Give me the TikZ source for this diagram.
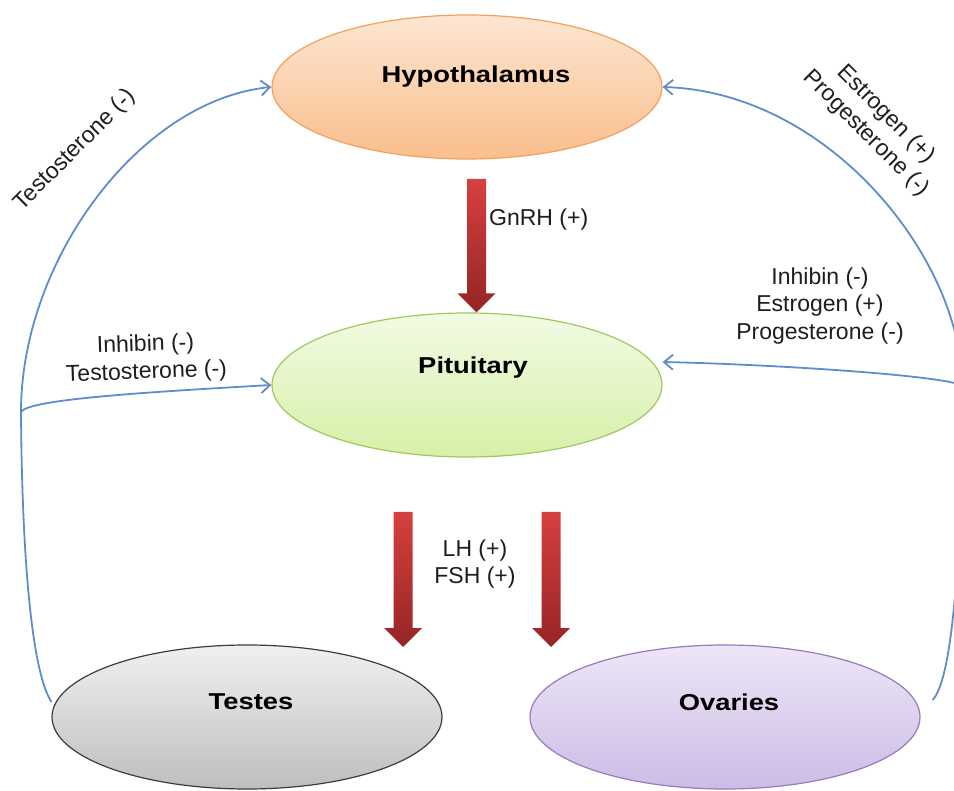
\documentclass[tikz,border=0pt]{standalone}
\usepackage{fontspec}
\setmainfont{Liberation Sans}
\newfontfamily\organfont{Liberation Sans}[FakeStretch=1.19]
\usepackage{tikz}
\usetikzlibrary{arrows.meta,calc,shapes.geometric}
\definecolor{ink}{RGB}{30,30,30}
\definecolor{fb}{RGB}{95,140,205}
\definecolor{arrtop}{RGB}{214,64,64}
\definecolor{arrbot}{RGB}{150,36,36}
\definecolor{hypoline}{RGB}{242,160,95}
\definecolor{hypotop}{RGB}{253,230,210}
\definecolor{hypobot}{RGB}{250,190,140}
\definecolor{pitline}{RGB}{160,200,95}
\definecolor{pittop}{RGB}{242,251,228}
\definecolor{pitbot}{RGB}{214,240,168}
\definecolor{teline}{RGB}{60,60,60}
\definecolor{tetop}{RGB}{240,240,240}
\definecolor{tebot}{RGB}{190,190,190}
\definecolor{ovline}{RGB}{150,122,190}
\definecolor{ovtop}{RGB}{238,230,247}
\definecolor{ovbot}{RGB}{204,188,230}
\tikzset{
  organ/.style={ellipse,minimum width=390pt,minimum height=144pt,inner sep=0pt,line width=1.2pt},
  otext/.style={font=\organfont\bfseries\fontsize{23}{27}\selectfont,text=black},
  lbl/.style={font=\fontsize{23}{27.5}\selectfont,align=center,text=ink,inner sep=0pt},
  fbk/.style={fb,line width=1.8pt,-{Straight Barb[length=9pt,width=15pt]}},
}
% thick red hormone arrow: #1 top of shaft, #2 tip
\newcommand{\hormonearrow}[2]{%
  \shade[top color=arrtop,bottom color=arrbot]
    ($(#1)+(-9.5,0)$) -- ($(#1)+(9.5,0)$) -- ($(#2)+(9.5,-19)$) -- ($(#2)+(19,-19)$)
    -- (#2) -- ($(#2)+(-19,-19)$) -- ($(#2)+(-9.5,-19)$) -- cycle;}

\begin{document}
\begin{tikzpicture}[x=1pt,y=-1pt]
  \useasboundingbox (0,0) rectangle (954,791);
  \clip (0,0) rectangle (954,791);

  \node[organ,draw=hypoline,top color=hypotop,bottom color=hypobot] (hypo) at (467,87) {};
  \node[organ,draw=pitline,top color=pittop,bottom color=pitbot] (pit) at (467,385) {};
  \node[organ,draw=teline,top color=tetop,bottom color=tebot] (testes) at (247,717) {};
  \node[organ,draw=ovline,top color=ovtop,bottom color=ovbot] (ovaries) at (725,717) {};

  \node[otext] (hypoT) at ([shift={(9pt,10pt)}]hypo.center) {Hypothalamus};
  \node[otext] (pitT) at ([shift={(6pt,17pt)}]pit.center) {Pituitary};
  \node[otext] (testesT) at ([shift={(4pt,15pt)}]testes.center) {Testes};
  \node[otext] (ovariesT) at ([shift={(4pt,15pt)}]ovaries.center) {Ovaries};

  % releasing hormones
  \coordinate (gnTop) at (476.5,179);
  \coordinate (gnTip) at ($(pit.north)+(9.5,0)$);
  \coordinate (lhTop) at (403,512);
  \coordinate (lhTip) at (403,647);
  \coordinate (fshTop) at (551,512);
  \coordinate (fshTip) at (551,647);
  \hormonearrow{gnTop}{gnTip}
  \hormonearrow{lhTop}{lhTip}
  \hormonearrow{fshTop}{fshTip}
  \node[lbl,anchor=west] (gnL) at (489,220) {GnRH (+)};
  \node[lbl] (lhL) at (475,564) {LH (+)\\FSH (+)};

  % feedback, male side
  \draw[fbk] ([yshift=15pt]testes.west) .. controls (32,672) and (22,560) .. (21,412)
    coordinate (jl) .. controls (21,260) and (140,100) .. (hypo.west);
  \draw[fbk] (jl) .. controls (28,400) and (130,393) .. (pit.west);
  \node[lbl,rotate=45] (testoL) at (75,150) {Testosterone (-)};
  \node[lbl,rotate=2] (teL) at (146,359) {Inhibin (-)\\Testosterone (-)};

  % feedback, female side
  \draw[fbk] ([shift={(12pt,17pt)}]ovaries.east) .. controls (952,680) and (962,560) .. (962,385)
    coordinate (jr) .. controls (962,260) and (830,92) .. (hypo.east);
  \draw[fbk] (jr) .. controls (930,374) and (760,364) .. ([yshift=23pt]pit.east);
  \node[lbl,rotate=-45] (estroL) at (876,124) {Estrogen (+)\\Progesterone (-)};
  \node[lbl] (ovL) at (820,306) {Inhibin (-)\\Estrogen (+)\\Progesterone (-)};
\end{tikzpicture}
\end{document}
